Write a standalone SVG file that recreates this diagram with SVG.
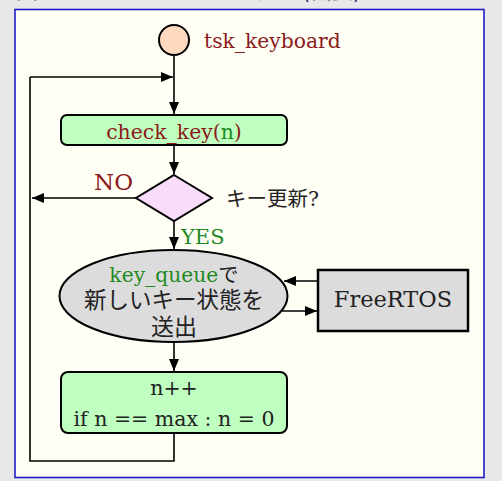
<svg xmlns="http://www.w3.org/2000/svg" width="502" height="481" viewBox="0 0 502 481">
  <defs>
    <marker id="arrow" viewBox="0 0 12 10" refX="12" refY="5" markerWidth="12" markerHeight="10" markerUnits="userSpaceOnUse" orient="auto">
      <path d="M0,0 L12,5 L0,10 Z" fill="#000"/>
    </marker>
    <style>
      .t { font-family: "DejaVu Serif", "Noto Sans CJK JP", serif; fill: #222; }
      .j { font-family: "Noto Sans CJK JP", "DejaVu Sans", sans-serif; }
      .red { fill: #8b1a1a; }
      .grn { fill: #1f8a1f; }
      .edge { fill: none; stroke: #000; stroke-width: 1.6; }
      .arr { marker-end: url(#arrow); }
      .shape { stroke: #000; stroke-width: 2; }
    </style>
  </defs>

  <!-- page background and figure panel -->
  <rect x="0" y="0" width="502" height="481" fill="#e8e8e8"/>
  <text class="j" x="16" y="-2" font-size="22" fill="#1a1a5a">図 4 キーボードタスクの処理(概要)</text>
  <rect x="15" y="9.5" width="469" height="468" fill="#fffff5" stroke="#1c1cc8" stroke-width="1.6"/>

  <!-- connectors -->
  <g id="connectors">
    <path class="edge arr" d="M174,56 L174,114"/>
    <path class="edge arr" d="M30,77 L173,77"/>
    <path class="edge arr" d="M174,146 L174,174"/>
    <path class="edge arr" d="M136,198 L32,198"/>
    <path class="edge arr" d="M174,221 L174,249"/>
    <path class="edge arr" d="M318,281 L284,281"/>
    <path class="edge arr" d="M281,311 L317,311"/>
    <path class="edge arr" d="M174,342 L174,371"/>
    <path class="edge" d="M174,433 L174,461 L30,461 L30,77"/>
    <text class="t red" x="94" y="190" font-size="23">NO</text>
    <text class="t grn" x="181" y="244" font-size="21">YES</text>
  </g>

  <!-- start terminal -->
  <g id="start">
    <circle class="shape" cx="174" cy="40" r="15" fill="#ffd9bf"/>
    <text class="t red" x="204" y="48" font-size="20.3">tsk_keyboard</text>
  </g>

  <!-- key scan step -->
  <g id="check_key">
    <rect class="shape" x="61" y="115" width="226" height="30" rx="6" fill="#bfffbf"/>
    <text class="t red" x="174" y="139" font-size="20.4" text-anchor="middle">check_key(<tspan class="grn">n</tspan>)</text>
  </g>

  <!-- decision -->
  <g id="key_changed">
    <path class="shape" d="M174,175 L212,198 L174,221 L136,198 Z" fill="#f8dcfa"/>
    <text class="t" x="226" y="206" font-size="20.5">キー更新?</text>
  </g>

  <!-- queue send -->
  <g id="send_queue">
    <ellipse class="shape" cx="173.5" cy="296" rx="114" ry="46" fill="#dcdcdc"/>
    <text class="t" x="174" y="282" font-size="20.3" text-anchor="middle"><tspan class="grn">key_queue</tspan>で</text>
    <text class="t" x="174" y="308" font-size="22.5" text-anchor="middle">新しいキー状態を</text>
    <text class="t" x="174" y="335" font-size="23" text-anchor="middle">送出</text>
  </g>

  <!-- RTOS -->
  <g id="freertos">
    <rect x="318" y="270" width="150" height="61" fill="#dcdcdc" stroke="#000" stroke-width="2.5"/>
    <text class="t" x="393" y="307" font-size="22.5" text-anchor="middle">FreeRTOS</text>
  </g>

  <!-- counter update -->
  <g id="next_key">
    <rect class="shape" x="61" y="372" width="226" height="61" rx="7" fill="#bfffbf"/>
    <text class="t" x="174" y="395" font-size="20.5" text-anchor="middle">n++</text>
    <text class="t" x="174" y="426" font-size="20.5" text-anchor="middle">if n == max : n = 0</text>
  </g>
</svg>
